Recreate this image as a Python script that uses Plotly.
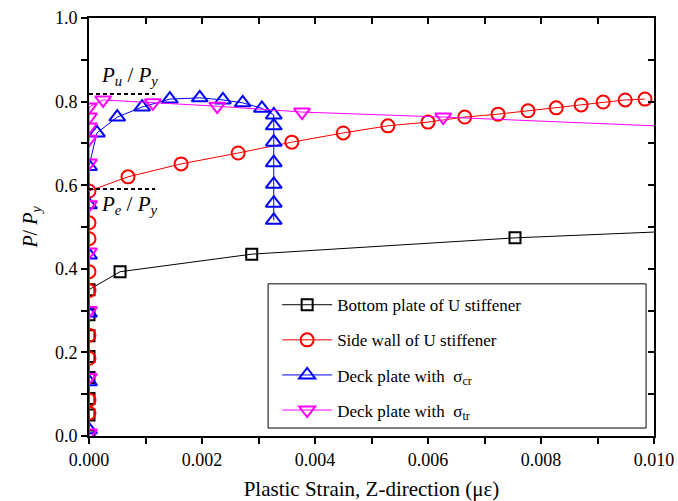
import plotly.graph_objects as go

# ---- data ----
bottom_x = [0, 0, 0, 0, 0, 0, 0, 0, 0.00055, 0.00288, 0.00754, 0.0125]
bottom_y = [0.0, 0.05, 0.09, 0.14, 0.19, 0.24, 0.29, 0.35, 0.393, 0.435, 0.474, 0.502]

side_x = [0, 0, 0, 0, 0, 0, 0, 0, 0, 0.00069, 0.00163, 0.00264, 0.00359, 0.0045,
          0.00529, 0.0060, 0.00665, 0.00724, 0.00777, 0.00827, 0.00871, 0.0091,
          0.00949, 0.00984]
side_y = [0.055, 0.086, 0.186, 0.241, 0.348, 0.393, 0.472, 0.51, 0.586, 0.62, 0.651,
          0.677, 0.703, 0.725, 0.742, 0.751, 0.763, 0.770, 0.778, 0.785, 0.792,
          0.799, 0.804, 0.806]

cr_x = [0, 0, 0, 0, 0, 0, 0.00014, 0.0005, 0.00094, 0.00143, 0.00196, 0.00237,
        0.00272, 0.00306, 0.00327, 0.00327, 0.00327, 0.00327, 0.00327, 0.00327, 0.00327]
cr_y = [0.015, 0.13, 0.294, 0.433, 0.553, 0.645, 0.725, 0.763, 0.787, 0.806, 0.809,
        0.804, 0.797, 0.784, 0.768, 0.742, 0.703, 0.654, 0.602, 0.557, 0.516]

tr_x = [0, 0, 0, 0, 0, 0, 0, 0, 0, 0, 0.00025, 0.00113, 0.00227, 0.00377, 0.00627, 0.0125]
tr_y = [0.007, 0.14, 0.30, 0.44, 0.553, 0.653, 0.71, 0.739, 0.763, 0.787, 0.804, 0.797,
        0.789, 0.775, 0.763, 0.728]

pu_level = 0.818
pe_level = 0.591
ref_x = [0, 0.00117]

x_major = [0, 0.002, 0.004, 0.006, 0.008, 0.010]
x_labels = ["0.000", "0.002", "0.004", "0.006", "0.008", "0.010"]
y_major = [0, 0.2, 0.4, 0.6, 0.8, 1.0]
y_labels = ["0.0", "0.2", "0.4", "0.6", "0.8", "1.0"]

names = ["Bottom plate of U stiffener", "Side wall of U stiffener",
         "Deck plate with  σ<sub>cr</sub>", "Deck plate with  σ<sub>tr</sub>"]

FONT = "Liberation Serif"

fig = go.Figure()

series = [
    (bottom_x, bottom_y, "black", "square-open", 11),
    (side_x, side_y, "red", "circle-open", 13),
    (cr_x, cr_y, "blue", "triangle-up-open", 14),
    (tr_x, tr_y, "magenta", "triangle-down-open", 14),
]
for i, (xs, ys, c, sym, sz) in enumerate(series):
    fig.add_trace(go.Scatter(
        x=xs, y=ys, mode="lines+markers", name=names[i], legendgroup=f"g{i}",
        cliponaxis=True,
        line=dict(color=c, width=1),
        marker=dict(symbol=sym, size=sz, color=c, line=dict(color=c, width=2)),
    ))

# reference dashed lines
for lvl in (pu_level, pe_level):
    fig.add_trace(go.Scatter(x=ref_x, y=[lvl, lvl], mode="lines", showlegend=False,
                             line=dict(color="black", width=2, dash="4px,3px")))

# invisible trace anchoring the mirrored (inside-tick) axes
fig.add_trace(go.Scatter(x=[None], y=[None], xaxis="x2", yaxis="y2", mode="markers",
                         showlegend=False, hoverinfo="skip"))

fig.add_annotation(x=0.00018, y=pu_level + 0.008, xref="x", yref="y", xanchor="left",
                   yanchor="bottom", showarrow=False,
                   text="<i>P<sub>u</sub></i> / <i>P<sub>y</sub></i>",
                   font=dict(family=FONT, size=21, color="black"))
fig.add_annotation(x=0.00018, y=pe_level - 0.003, xref="x", yref="y", xanchor="left",
                   yanchor="top", showarrow=False,
                   text="<i>P<sub>e</sub></i> / <i>P<sub>y</sub></i>",
                   font=dict(family=FONT, size=21, color="black"))

# legend box
fig.add_shape(type="rect", xref="paper", yref="paper", x0=0.317, x1=0.986, y0=0.019, y1=0.364,
              line=dict(color="black", width=1), fillcolor="white", layer="below")

axis_common = dict(showline=True, linecolor="black", linewidth=2, showgrid=False,
                   zeroline=False, tickcolor="black", ticklen=6, tickwidth=1.5,
                   automargin=False)

fig.update_layout(
    width=678, height=501,
    margin=dict(l=89, r=24, t=18, b=65),
    plot_bgcolor="white", paper_bgcolor="white",
    font=dict(family=FONT, size=18, color="black"),
    showlegend=True,
    legend=dict(x=0.333, y=0.356, xanchor="left", yanchor="top", bgcolor="rgba(0,0,0,0)",
                borderwidth=0, font=dict(family=FONT, size=17), tracegroupgap=10,
                itemwidth=50),
    xaxis=dict(range=[0, 0.010], tickvals=x_major, ticktext=x_labels,
               ticks="outside", minor=dict(ticks="outside", dtick=0.001, ticklen=6,
                                           tickcolor="black", tickwidth=1.5),
               title=dict(text="Plastic Strain, Z-direction (με)", font=dict(size=21),
                          standoff=14),
               **axis_common),
    yaxis=dict(range=[0, 1.0], tickvals=y_major, ticktext=y_labels,
               ticks="outside", minor=dict(ticks="outside", dtick=0.1, ticklen=6,
                                           tickcolor="black", tickwidth=1.5),
               title=dict(text="<i>P</i>/ <i>P<sub>y</sub></i>", font=dict(size=20),
                          standoff=12),
               **axis_common),
    xaxis2=dict(overlaying="x", side="top", anchor="y2", range=[0, 0.010],
                tickmode="linear", tick0=0, dtick=0.001,
                ticks="inside", showticklabels=False, **axis_common),
    yaxis2=dict(overlaying="y", side="right", anchor="x2", range=[0, 1.0],
                tickmode="linear", tick0=0, dtick=0.1,
                ticks="inside", showticklabels=False, **axis_common),
)

fig.write_html("out.html")
